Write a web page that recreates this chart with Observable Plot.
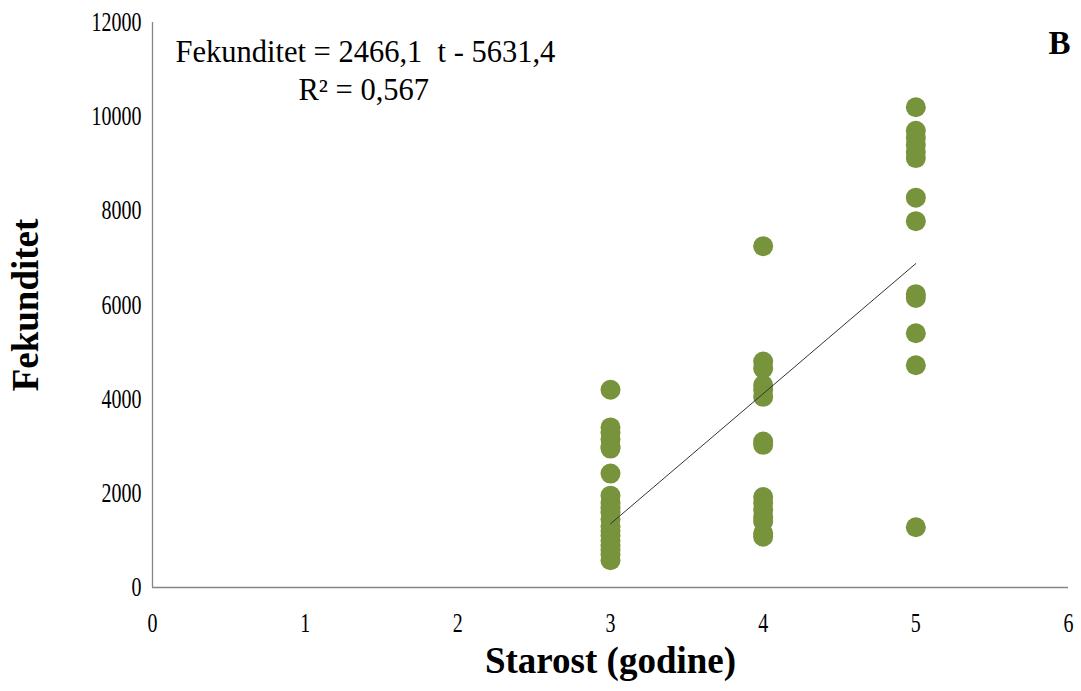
<!DOCTYPE html>
<html>
<head>
<meta charset="utf-8">
<script src="https://cdn.jsdelivr.net/npm/d3@7"></script>
<script src="https://cdn.jsdelivr.net/npm/@observablehq/plot@0.6"></script>
<style>
  html, body { margin: 0; padding: 0; background: #fff; }
  #chart svg { display: block; }
</style>
</head>
<body>
<div id="chart"></div>
<script>
// Data
const age3 = [4200, 3400, 3300, 3150, 3000, 2950, 2420, 1950, 1800, 1700, 1600, 1450, 1300, 1200, 1100, 1000, 900, 800, 700, 580];
const age4 = [7250, 4800, 4650, 4300, 4200, 4050, 3100, 3030, 1920, 1800, 1650, 1500, 1400, 1150, 1080];
const age5 = [10200, 9700, 9550, 9400, 9250, 9120, 8280, 7780, 6230, 6150, 5400, 4720, 1280];
const trendX = [3, 5];
const trendY = [1352, 6880];
const xTicks = [0, 1, 2, 3, 4, 5, 6];
const yTicks = [0, 2000, 4000, 6000, 8000, 10000, 12000];
const equation = "Fekunditet = 2466,1  t - 5631,4";
const rSquared = "R\u00b2 = 0,567";
const panelLabel = "B";
const xTitle = "Starost (godine)";
const yTitle = "Fekunditet";

const points = [
  ...age3.map(v => ({age: 3, fek: v})),
  ...age4.map(v => ({age: 4, fek: v})),
  ...age5.map(v => ({age: 5, fek: v}))
];
const trend = trendX.map((x, i) => ({age: x, fek: trendY[i]}));

const font = "'Liberation Serif', 'Times New Roman', serif";

const chart = Plot.plot({
  width: 1081,
  height: 691,
  marginLeft: 152,
  marginRight: 13,
  marginTop: 22,
  marginBottom: 104,
  style: {fontFamily: font, fontSize: "20px", color: "#000", background: "#fff"},
  x: {domain: [0, 6]},
  y: {domain: [0, 12000]},
  marks: [
    Plot.axisX({ticks: xTicks, tickSize: 0, tickPadding: 25, tickFormat: "d", label: null, fill: "#000"}),
    Plot.axisY({ticks: yTicks, tickSize: 0, tickPadding: 11, tickFormat: "d", label: null, fill: "#000"}),
    Plot.ruleX([0], {stroke: "#868686", strokeWidth: 1.3}),
    Plot.ruleY([0], {stroke: "#868686", strokeWidth: 1.3}),
    Plot.dot(points, {x: "age", y: "fek", r: 10, fill: "#77933C", stroke: "none"}),
    Plot.line(trend, {x: "age", y: "fek", stroke: "#333", strokeWidth: 1}),
    Plot.text([equation], {frameAnchor: "top-left", dx: 23, dy: 18, text: d => d, textAnchor: "start", fontSize: 30.5, fill: "#000"}),
    Plot.text([rSquared], {frameAnchor: "top-left", dx: 146, dy: 56, text: d => d, textAnchor: "start", fontSize: 30.5, fill: "#000"}),
    Plot.text([panelLabel], {frameAnchor: "top-right", dx: 2, dy: 8, text: d => d, textAnchor: "end", fontSize: 33, fontWeight: "bold", fill: "#000"}),
    Plot.text([xTitle], {frameAnchor: "bottom", dy: 85, text: d => d, fontSize: 37, fontWeight: "bold", fill: "#000"}),
    Plot.text([yTitle], {frameAnchor: "left", dx: -126, rotate: -90, textAnchor: "middle", text: d => d, fontSize: 37, fontWeight: "bold", fill: "#000"})
  ]
});
// Tick labels in the reference are tall and narrow: enlarge and compress horizontally
d3.select(chart).selectAll("g[aria-label='x-axis tick label'] text, g[aria-label='y-axis tick label'] text")
  .style("font-size", "27px")
  .attr("transform", function() { return (this.getAttribute("transform") || "") + " scale(0.74,1)"; });
document.getElementById("chart").appendChild(chart);
</script>
</body>
</html>
